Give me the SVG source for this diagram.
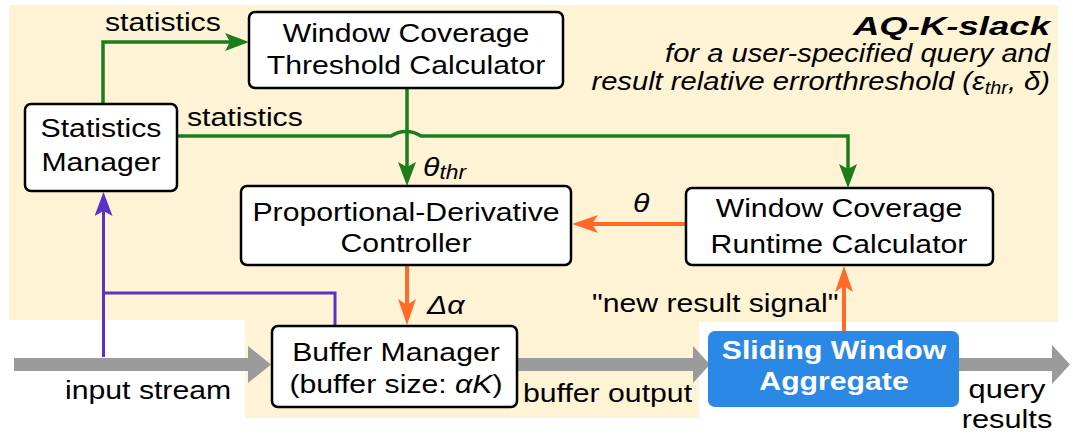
<svg xmlns="http://www.w3.org/2000/svg" width="1073" height="434" viewBox="0 0 1073 434">
  <style>
    .box { fill: #ffffff; stroke: #000000; stroke-width: 2.5; }
    .t { font-family: "Liberation Sans", Arial, sans-serif; font-size: 26.5px; fill: #000000; }
    .c { text-anchor: middle; }
    .it { font-style: italic; }
    .swa-t { font-family: "Liberation Sans", Arial, sans-serif; font-size: 26.5px; font-weight: bold; fill: #ffffff; text-anchor: middle; }
    .green { fill: none; stroke: #1b7d1b; stroke-width: 3.5; }
    .orange { fill: none; stroke: #ff6a2a; stroke-width: 4; }
    .purple { fill: none; stroke: #5a32c8; stroke-width: 3; }
    .flow { fill: #9b9b9b; }
  </style>
  <defs>
    <marker id="head-green" viewBox="0 0 24 18" markerWidth="24" markerHeight="18" refX="18" refY="9" orient="auto" markerUnits="userSpaceOnUse">
      <path d="M0,0 L24,9 L0,18 L5,9 Z" fill="#1b7d1b"/>
    </marker>
    <marker id="head-orange" viewBox="0 0 26 18" markerWidth="26" markerHeight="18" refX="20" refY="9" orient="auto" markerUnits="userSpaceOnUse">
      <path d="M0,0 L26,9 L0,18 L6,9 Z" fill="#ff6a2a"/>
    </marker>
    <marker id="head-purple" viewBox="0 0 24 18" markerWidth="24" markerHeight="18" refX="18" refY="9" orient="auto" markerUnits="userSpaceOnUse">
      <path d="M0,0 L24,9 L0,18 L5,9 Z" fill="#5a32c8"/>
    </marker>
  </defs>

  <!-- shaded system area -->
  <polygon points="9,5 1058,5 1058,322 699,322 699,418 245,418 245,320 9,320" fill="#fff3d6"/>

  <!-- title block -->
  <g id="title">
    <text class="t" font-size="29" font-weight="bold" font-style="italic" text-anchor="end" transform="translate(1050 35) scale(1.38 1)">AQ-K-slack</text>
    <text class="t it" font-size="22" text-anchor="end" transform="translate(1050 62) scale(1.1 1)">for a user-specified query and</text>
    <text class="t it" font-size="22" text-anchor="end" transform="translate(1050 90) scale(1.1 1)">result relative errorthreshold (ε<tspan font-size="18" dy="4">thr</tspan><tspan dy="-4">, δ)</tspan></text>
  </g>

  <!-- data-flow arrows -->
  <g id="streams">
    <polygon class="flow" points="14,358 248,358 248,346 271,364.5 248,383 248,371 14,371"/>
    <polygon class="flow" points="517,358 693,358 693,346 710,364.5 693,383 693,371 517,371"/>
    <polygon class="flow" points="959,358 1052,358 1052,345 1070,364.5 1052,384 1052,371 959,371"/>
  </g>

  <g id="connectors">
    <!-- statistics to threshold calculator -->
    <path class="green" d="M103,104 V42 H243" marker-end="url(#head-green)"/>
    <!-- statistics to runtime calculator, hopping over the threshold line -->
    <path class="green" d="M176,136 H391 A27,27 0 0 1 421,136 H848 V182" marker-end="url(#head-green)"/>
    <!-- threshold to controller -->
    <path class="green" d="M407,89 V180" marker-end="url(#head-green)"/>
    <!-- runtime theta to controller -->
    <path class="orange" d="M686,224 H578" marker-end="url(#head-orange)"/>
    <!-- controller to buffer manager -->
    <path class="orange" d="M407,266 V319" marker-end="url(#head-orange)"/>
    <!-- result signal -->
    <path class="orange" d="M844,331 V272" marker-end="url(#head-orange)"/>
    <!-- input stream tap to statistics -->
    <path class="purple" d="M103.5,357 V198" marker-end="url(#head-purple)"/>
    <path class="purple" d="M103.5,293 H335 V326"/>
  </g>

  <g id="statistics-manager">
    <rect class="box" x="25" y="104" width="152" height="87" rx="6"/>
    <text class="t c" transform="translate(101 137) scale(1.14 1)">Statistics</text>
    <text class="t c" transform="translate(101 171) scale(1.14 1)">Manager</text>
  </g>

  <g id="threshold-calculator">
    <rect class="box" x="249" y="12" width="314" height="76" rx="6"/>
    <text class="t c" transform="translate(406 42) scale(1.14 1)">Window Coverage</text>
    <text class="t c" transform="translate(406 74) scale(1.14 1)">Threshold Calculator</text>
  </g>

  <g id="pd-controller">
    <rect class="box" x="241" y="186" width="330" height="79" rx="6"/>
    <text class="t c" transform="translate(406 221) scale(1.14 1)">Proportional-Derivative</text>
    <text class="t c" transform="translate(406 252) scale(1.14 1)">Controller</text>
  </g>

  <g id="runtime-calculator">
    <rect class="box" x="686" y="188" width="307" height="77" rx="6"/>
    <text class="t c" transform="translate(839 217) scale(1.14 1)">Window Coverage</text>
    <text class="t c" transform="translate(839 253) scale(1.14 1)">Runtime Calculator</text>
  </g>

  <g id="buffer-manager">
    <rect class="box" x="272" y="326" width="245" height="81" rx="6"/>
    <text class="t c" transform="translate(396 361) scale(1.14 1)">Buffer Manager</text>
    <text class="t c" transform="translate(396 393) scale(1.14 1)">(buffer size: <tspan class="it">αK</tspan>)</text>
  </g>

  <g id="sliding-window-aggregate">
    <rect x="708" y="331" width="251" height="76" rx="7" fill="#2b88e4"/>
    <text class="swa-t" transform="translate(834 359) scale(1.14 1)">Sliding Window</text>
    <text class="swa-t" transform="translate(834 390) scale(1.14 1)">Aggregate</text>
  </g>

  <g id="labels">
    <text class="t" transform="translate(105 31) scale(1.14 1)">statistics</text>
    <text class="t" transform="translate(187 126) scale(1.14 1)">statistics</text>
    <text class="t it" transform="translate(423 176) scale(1.14 1)">θ<tspan font-size="20" dy="3">thr</tspan></text>
    <text class="t it" transform="translate(633 212) scale(1.14 1)">θ</text>
    <text class="t it" transform="translate(427 314) scale(1.14 1)">Δα</text>
    <text class="t" transform="translate(592 312) scale(1.14 1)">"new result signal"</text>
    <text class="t" transform="translate(65 399) scale(1.14 1)">input stream</text>
    <text class="t" transform="translate(523 402) scale(1.14 1)">buffer output</text>
    <text class="t c" font-size="25" transform="translate(1007 398) scale(1.16 1)">query</text>
    <text class="t c" font-size="25" transform="translate(1007 428) scale(1.16 1)">results</text>
  </g>
</svg>
